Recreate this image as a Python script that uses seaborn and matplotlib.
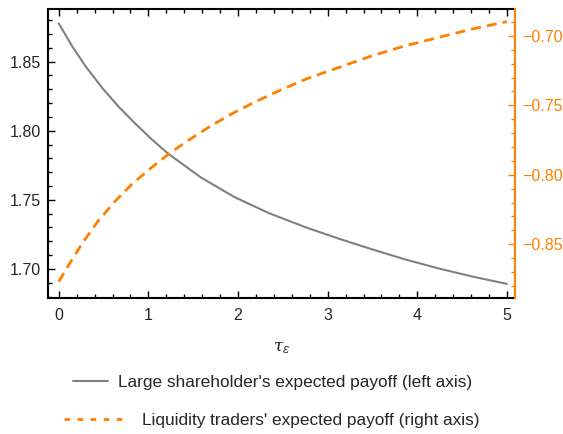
import numpy as np
import pandas as pd
import matplotlib
matplotlib.use("Agg")
import matplotlib.pyplot as plt
from matplotlib.lines import Line2D
from matplotlib.ticker import MultipleLocator, FormatStrFormatter, FuncFormatter
import seaborn as sns

# ---- data ----
tau_large = [0.0, 0.15, 0.30, 0.49, 0.67, 0.86, 1.04, 1.22, 1.59, 1.96,
             2.34, 2.76, 3.12, 3.49, 3.86, 4.23, 4.60, 5.0]
large_payoff = [1.8776, 1.8610, 1.8465, 1.8305, 1.8172, 1.8047, 1.7936, 1.7834,
                1.7660, 1.7520, 1.7405, 1.7300, 1.7220, 1.7143, 1.7070, 1.7005,
                1.6947, 1.6892]
tau_liq = [0.0, 0.10, 0.26, 0.43, 0.62, 0.82, 1.04, 1.21, 1.44, 1.70, 1.96,
           2.22, 2.48, 2.76, 3.12, 3.49, 3.86, 4.23, 4.60, 5.0]
liquidity_payoff = [-0.8770, -0.8660, -0.8495, -0.8340, -0.8196, -0.8065,
                    -0.7945, -0.7858, -0.7754, -0.7646, -0.7550, -0.7466,
                    -0.7388, -0.7310, -0.7228, -0.7144, -0.7072, -0.7012,
                    -0.6952, -0.6897]
label_large = "Large shareholder's expected payoff (left axis)"
label_liq = "Liquidity traders' expected payoff (right axis)"

GRAY = "#808080"
ORANGE = "#FF8000"

sns.set_style("white")
plt.rcParams['font.family'] = ['Liberation Sans', 'DejaVu Sans']
plt.rcParams['font.size'] = 11.5
plt.rcParams['mathtext.fontset'] = 'dejavuserif'

df_large = pd.DataFrame({"tau": tau_large, "payoff": large_payoff})
df_liq = pd.DataFrame({"tau": tau_liq, "payoff": liquidity_payoff})

fig = plt.figure(figsize=(5.63, 4.34), dpi=100)
ax = fig.add_axes([48/563, 1-298/434, (515-48)/563, (298-9)/434])
ax2 = ax.twinx()

sns.lineplot(data=df_large, x="tau", y="payoff", ax=ax, color=GRAY, lw=1.5)
sns.lineplot(data=df_liq, x="tau", y="payoff", ax=ax2, color=ORANGE, lw=2.0,
             linestyle=(0, (3.6, 2.2)))

ax.set_xlim(-0.12, 5.09)
ax.set_ylim(1.679, 1.888)
ax2.set_ylim(-0.8887, -0.6806)

ax.xaxis.set_major_locator(MultipleLocator(1))
ax.xaxis.set_minor_locator(MultipleLocator(0.2))
ax.yaxis.set_major_locator(MultipleLocator(0.05))
ax.yaxis.set_minor_locator(MultipleLocator(0.01))
ax2.yaxis.set_major_locator(MultipleLocator(0.05))
ax2.yaxis.set_minor_locator(MultipleLocator(0.01))
ax.yaxis.set_major_formatter(FormatStrFormatter('%.2f'))
ax2.yaxis.set_major_formatter(FuncFormatter(lambda v, p: ('%.2f' % v).replace('-', '\u2212')))

for s in ['left', 'bottom', 'top']:
    ax.spines[s].set_color('black')
    ax.spines[s].set_linewidth(1.5)
ax.spines['right'].set_visible(False)
for s in ['left', 'bottom', 'top']:
    ax2.spines[s].set_visible(False)
ax2.spines['right'].set_color(ORANGE)
ax2.spines['right'].set_linewidth(1.5)

ax.tick_params(axis='x', which='both', direction='in', top=True, bottom=True,
               color='black', width=1.0, pad=7, labelsize=11.5)
ax.tick_params(axis='x', which='major', length=5)
ax.tick_params(axis='x', which='minor', length=3)
ax.tick_params(axis='y', which='both', direction='in', left=True, right=False,
               color='black', width=1.0, pad=5, labelsize=11.5)
ax.tick_params(axis='y', which='major', length=5)
ax.tick_params(axis='y', which='minor', length=3)
ax2.tick_params(axis='y', which='both', direction='in', right=True, left=False,
                color=ORANGE, labelcolor=ORANGE, width=1.0, pad=5, labelsize=11.5)
ax2.tick_params(axis='y', which='major', length=5)
ax2.tick_params(axis='y', which='minor', length=3)

ax.set_xlabel(r'$\tau_\epsilon$', fontsize=12, labelpad=13)
ax.set_ylabel('')
ax2.set_ylabel('')
ax.grid(False)
ax2.grid(False)

h1 = Line2D([], [], color=GRAY, lw=1.5)
h2 = Line2D([], [], color=ORANGE, lw=2.0, dashes=(2.0, 2.7))
fig.legend([h1], [label_large], loc='center', bbox_to_anchor=(273/563, 1-382/434),
           frameon=False, handlelength=2.03, handletextpad=0.58, fontsize=12.4,
           borderpad=0, borderaxespad=0)
fig.legend([h2], [label_liq], loc='center', bbox_to_anchor=(272/563, 1-420/434),
           frameon=False, handlelength=3.66, handletextpad=0.87, fontsize=12.4,
           borderpad=0, borderaxespad=0)

fig.savefig("out.png", dpi=100)
